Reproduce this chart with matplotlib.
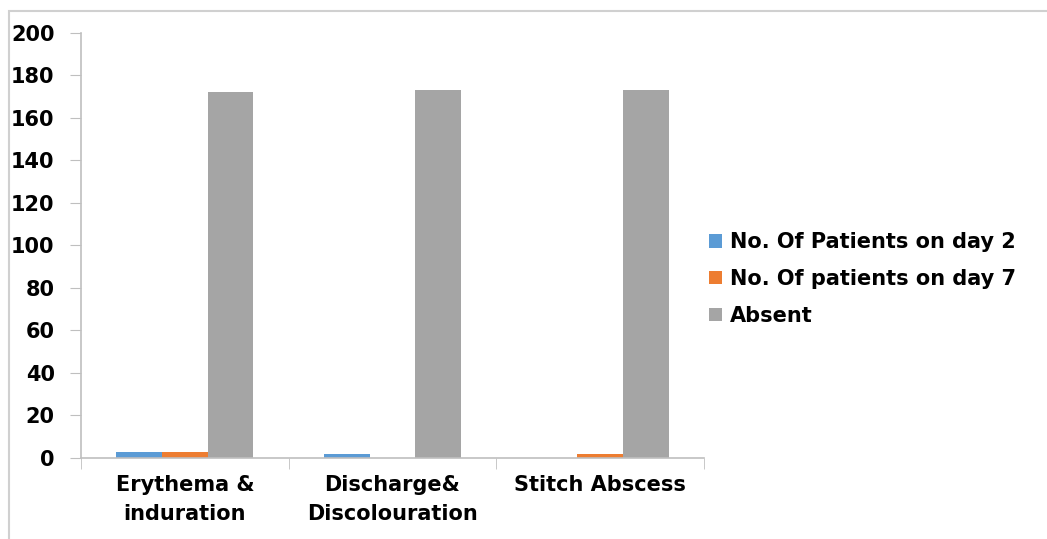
import numpy as np
import matplotlib.pyplot as plt
from matplotlib.patches import Rectangle

categories = ['Erythema &\ninduration', 'Discharge&\nDiscolouration', 'Stitch Abscess']
series_names = ['No. Of Patients on day 2', 'No. Of patients on day 7', 'Absent']
day2 = [3, 2, 0]
day7 = [3, 0, 2]
absent = [172, 173, 173]
colors = ['#5B9BD5', '#ED7D31', '#A5A5A5']

plt.rcParams['font.family'] = 'DejaVu Sans'
plt.rcParams['font.weight'] = 'bold'

fig = plt.figure(figsize=(10.47, 5.39), dpi=100)
ax = fig.add_axes([0.0774, 0.1503, 0.595, 0.7885])

# light grey chart frame
fig.patches.append(Rectangle((0.0086, -0.05), 1.1, 1.03, transform=fig.transFigure,
                             fill=False, edgecolor='#d0d0d0', linewidth=1.5))

x = np.arange(len(categories))
w = 0.22
for i, (vals, name) in enumerate(zip([day2, day7, absent], series_names)):
    ax.bar(x + (i - 1) * w, vals, width=w, color=colors[i], label=name)

ax.set_xlim(-0.5, 2.5)
ax.set_ylim(0, 200)
ax.set_yticks(np.arange(0, 201, 20))
ax.set_xticks(x)
ax.set_xticklabels(categories, fontsize=15, fontweight='bold', linespacing=1.6)
ax.tick_params(axis='x', length=0, pad=12)
ax.tick_params(axis='y', labelsize=15, length=8, color='#bfbfbf', pad=11)

# category separators on the x axis
ax.set_xticks([-0.5, 0.5, 1.5, 2.5], minor=True)
ax.tick_params(axis='x', which='minor', length=8, color='#bfbfbf')

for s in ['top', 'right']:
    ax.spines[s].set_visible(False)
for s in ['left', 'bottom']:
    ax.spines[s].set_color('#bfbfbf')
    ax.spines[s].set_linewidth(1.2)

leg = ax.legend(loc='center left', bbox_to_anchor=(0.985, 0.421), frameon=False,
                prop={'size': 15, 'weight': 'bold'}, handlelength=0.6, handleheight=0.6,
                handletextpad=0.4, labelspacing=0.8, borderaxespad=0.3)

fig.savefig('out.png', dpi=100)
